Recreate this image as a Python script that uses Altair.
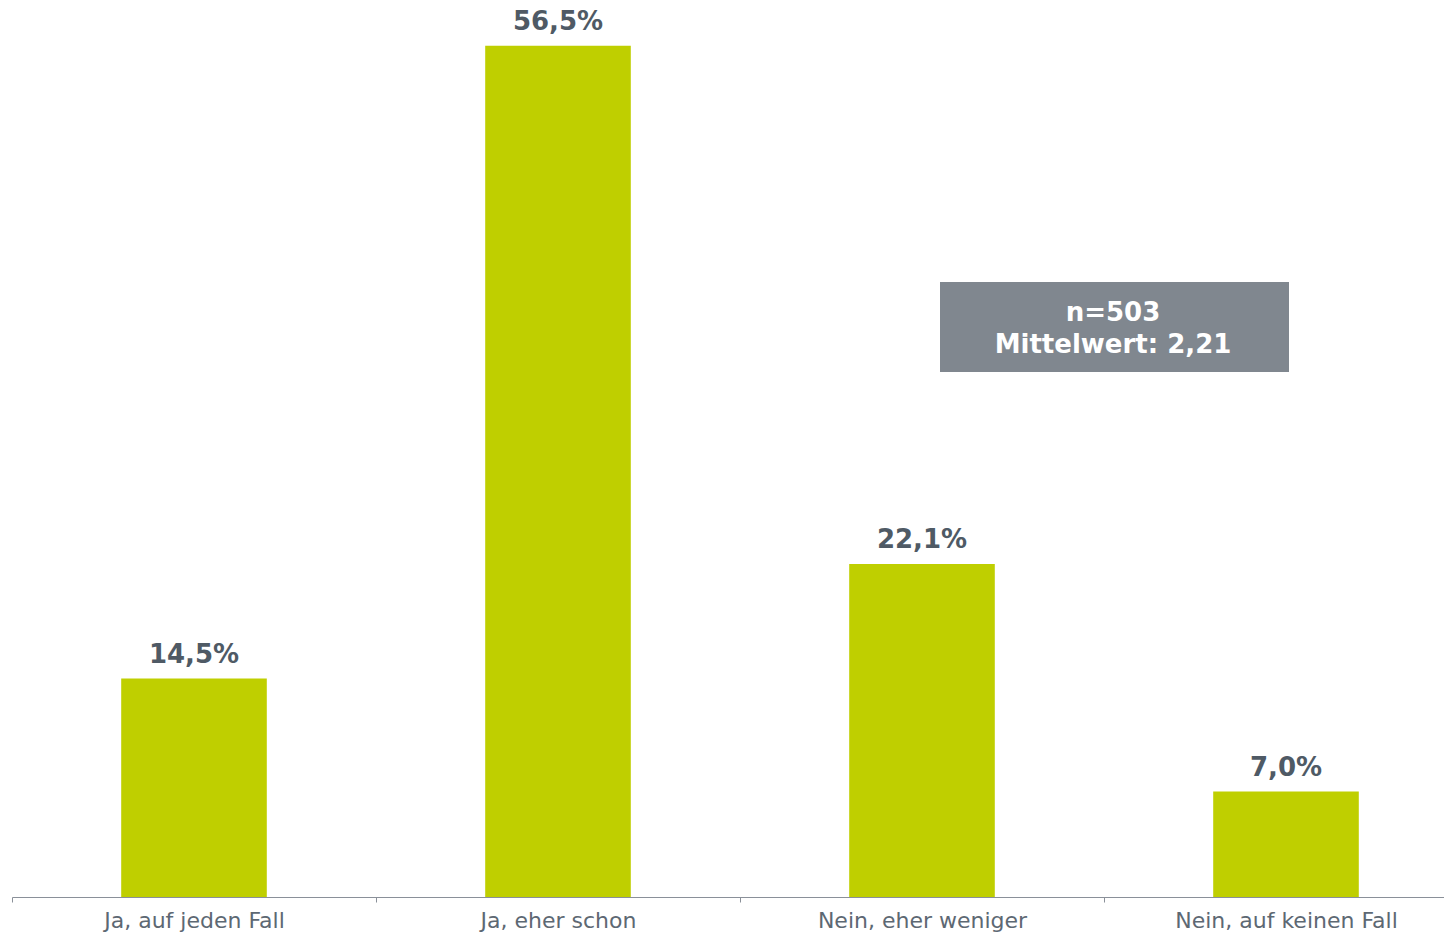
import altair as alt
import pandas as pd

categories = ["Ja, auf jeden Fall", "Ja, eher schon", "Nein, eher weniger", "Nein, auf keinen Fall"]
values = [14.5, 56.5, 22.1, 7.0]
value_labels = ["14,5%", "56,5%", "22,1%", "7,0%"]
note_lines = ["n=503", "Mittelwert: 2,21"]

df = pd.DataFrame({"cat": categories, "val": values, "lab": value_labels})

FONT = "DejaVu Sans"

x = alt.X("cat:N", sort=categories,
          scale=alt.Scale(range=[0, 1456], paddingInner=0.6, paddingOuter=0.3),
          axis=alt.Axis(title=None, labelAngle=0, labelFont=FONT,
                        labelFontSize=22, labelColor="#5d6873", labelPadding=25,
                        labelBaseline="alphabetic", labelLimit=0,
                        tickOffset=-182, labelOffset=182,
                        domainColor="#8a9099", tickColor="#8a9099", tickSize=5,
                        labelFlush=False))
y = alt.Y("val:Q", scale=alt.Scale(domain=[0, 59], nice=False), axis=None)

bars = alt.Chart(df).mark_bar(color="#bfcf00").encode(x=x, y=y)
texts = alt.Chart(df).mark_text(baseline="alphabetic", dy=-16, font=FONT, fontWeight="bold",
                                fontSize=26, color="#4f5a65").encode(x=x, y=y, text="lab:N")

note_df = pd.DataFrame({"t": [" "]})
box = alt.Chart(note_df).mark_rect(color="#80878f").encode(
    x=alt.value(928), x2=alt.value(1277), y=alt.value(274), y2=alt.value(364))
note1 = alt.Chart(note_df).mark_text(font=FONT, fontWeight="bold", fontSize=26, color="white").encode(
    x=alt.value(1101), y=alt.value(305), text=alt.value(note_lines[0]))
note2 = alt.Chart(note_df).mark_text(font=FONT, fontWeight="bold", fontSize=26, color="white").encode(
    x=alt.value(1101), y=alt.value(337), text=alt.value(note_lines[1]))

chart = alt.layer(bars, texts, box, note1, note2).properties(
    width=1432, height=889,
    background="white",
    autosize=alt.AutoSizeParams(type="none"),
    padding={"left": 4, "top": 0, "right": 0, "bottom": 37},
).configure_view(stroke=None)

chart.save("out.html", embed_options={"renderer": "svg", "actions": False})
